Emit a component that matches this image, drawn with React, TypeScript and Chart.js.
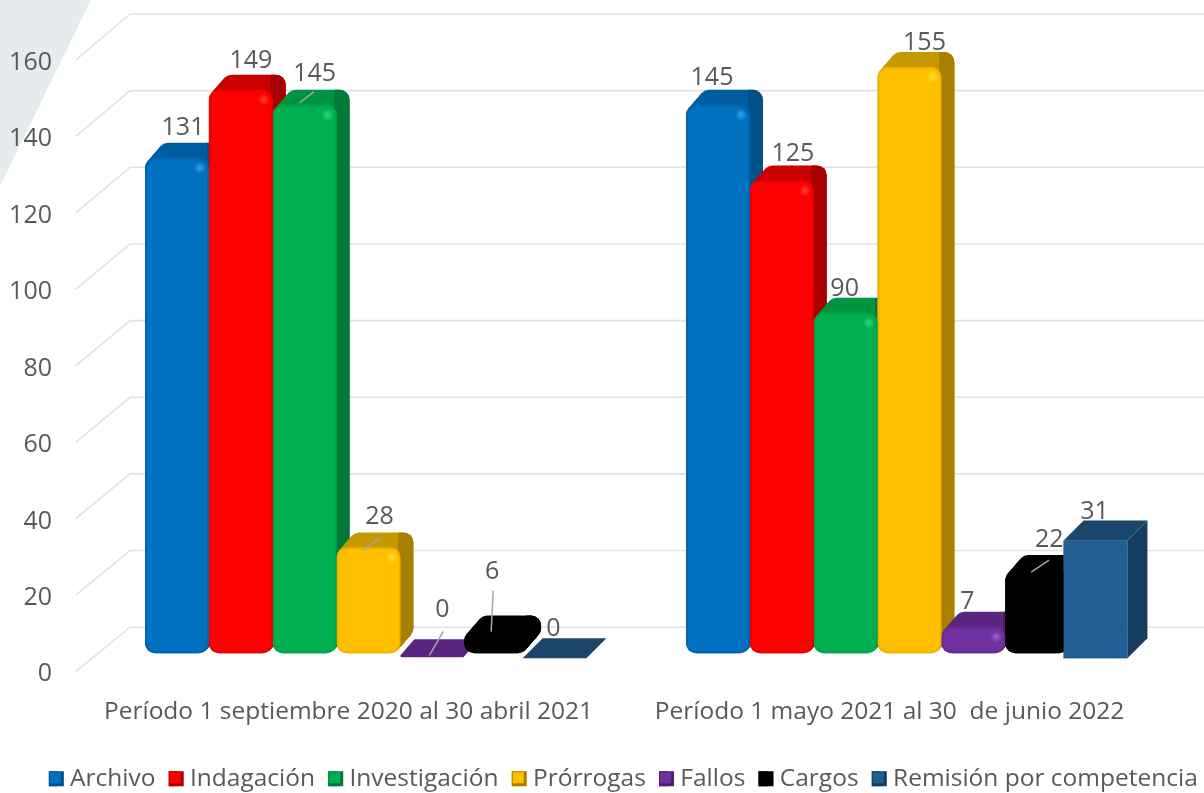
import React, { useEffect, useRef } from "react";
import { Chart, registerables } from "chart.js";

Chart.register(...registerables);

const categories = [
  "Período 1 septiembre 2020 al 30 abril 2021",
  "Período 1 mayo 2021 al 30  de junio 2022",
];
const archivo = [131, 145];
const indagacion = [149, 125];
const investigacion = [145, 90];
const prorrogas = [28, 155];
const fallos = [0, 7];
const cargos = [6, 22];
const remision = [0, 31];
const axisTicks = [0, 20, 40, 60, 80, 100, 120, 140, 160];

const FONT = '"Open Sans", sans-serif';
const TEXT = "#595959";

const styles = [
  { front: "#0070C0", top: "#005CA0", side: "#00508C", rim: "#005A9A", spot: "#3AA0F0" },
  { front: "#FF0000", top: "#CC0000", side: "#A80000", rim: "#D80000", spot: "#FF4040" },
  { front: "#00B050", top: "#009440", side: "#007A36", rim: "#009A44", spot: "#30D880" },
  { front: "#FFC000", top: "#C89800", side: "#A88000", rim: "#E0A800", spot: "#FFE030" },
  { front: "#7030A0", top: "#5A2680", side: "#4C2070", rim: "#602890", spot: "#A060D0" },
  { front: "#000000", top: "#000000", side: "#000000", rim: "#000000", spot: "#303030" },
  { front: "#215F92", top: "#1B476D", side: "#163D60", rim: "#215F92", spot: "" },
];
const names = ["Archivo", "Indagación", "Investigación", "Prórrogas", "Fallos", "Cargos", "Remisión por competencia"];
const series = [archivo, indagacion, investigacion, prorrogas, fallos, cargos, remision];

// label offsets from each bar's top centre
const labelOffsets = [
  [[6, -30], [-6, -27]],
  [[10, -29], [11, -27]],
  [[10, -31], [-1, -24]],
  [[11, -31], [15, -24]],
  [[10, -43], [-6, -25]],
  [[-4, -59], [12, -30]],
  [[-1, -29], [-1, -29]],
];
// leader lines, relative to the bar's top centre: [x1,y1,x2,y2]
const leaders: Record<string, number[]> = {
  "2-0": [-5, -2, 9, -13],
  "3-0": [-6, 3, 11, -9],
  "4-0": [-3, 2, 11, -22],
  "5-0": [-5, 1, -3, -40],
  "5-1": [-6, 2, 12, -10],
};

const DEPTH_X = 13;
const DEPTH_Y = 15;
const BOX_DEPTH = 20;
const RADIUS = 10;
const BOX_SHIFT = -5.5;

const depthPlugin = {
  id: "depth",
  afterDatasetsUpdate(chart: any) {
    chart.getDatasetMeta(6).data.forEach((el: any) => {
      el.x += BOX_SHIFT;
    });
  },
  beforeDraw(chart: any) {
    const { ctx } = chart;
    ctx.save();
    ctx.fillStyle = "#E6ECEE";
    ctx.beginPath();
    ctx.moveTo(0, 0);
    ctx.lineTo(91, 0);
    ctx.lineTo(0, 186);
    ctx.closePath();
    ctx.fill();
    ctx.restore();
  },
  beforeDatasetsDraw(chart: any) {
    const { ctx, scales } = chart;
    const right = chart.width;
    ctx.save();
    ctx.strokeStyle = "#E2E2E2";
    ctx.lineWidth = 1.6;
    for (const v of axisTicks) {
      const wy = scales.yWall.getPixelForValue(v);
      const ly = scales.y.getPixelForValue(v);
      ctx.beginPath();
      ctx.moveTo(76, ly);
      ctx.lineTo(130, wy);
      ctx.lineTo(right, wy);
      ctx.stroke();
    }
    ctx.restore();
    series.forEach((_, i) => {
      const s = styles[i];
      const isBox = i === 6;
      chart.getDatasetMeta(i).data.forEach((el: any) => {
        const l = el.x - el.width / 2;
        const r = el.x + el.width / 2;
        const t = el.y;
        const b = el.base;
        ctx.save();
        if (isBox) {
          const d = BOX_DEPTH;
          ctx.fillStyle = s.top;
          ctx.beginPath();
          ctx.moveTo(l, t);
          ctx.lineTo(l + d, t - d);
          ctx.lineTo(r + d, t - d);
          ctx.lineTo(r, t);
          ctx.closePath();
          ctx.fill();
          if (b - t > 1) {
            ctx.fillStyle = s.side;
            ctx.beginPath();
            ctx.moveTo(r, t);
            ctx.lineTo(r + d, t - d);
            ctx.lineTo(r + d, b - d);
            ctx.lineTo(r, b);
            ctx.closePath();
            ctx.fill();
          }
        } else {
          const h = b - t;
          const flat = h < 3;
          const rad = flat ? 4 : Math.min(RADIUS, h / 2);
          const sweep = (color: string) => {
            ctx.fillStyle = color;
            for (let k = 0; k <= DEPTH_Y; k++) {
              ctx.beginPath();
              ctx.roundRect(l + (k * DEPTH_X) / DEPTH_Y, t - k + (flat ? 1 : 0), el.width, flat ? 3 : h, rad);
              ctx.fill();
            }
          };
          sweep(s.top);
          if (!flat) {
            ctx.save();
            ctx.beginPath();
            ctx.rect(r - 2, 0, DEPTH_X + 6, chart.height);
            ctx.clip();
            sweep(s.side);
            ctx.restore();
          }
        }
        ctx.restore();
      });
    });
  },
  afterDatasetsDraw(chart: any) {
    const { ctx } = chart;
    series.forEach((_, i) => {
      if (i === 6 || i === 5) return;
      const s = styles[i];
      chart.getDatasetMeta(i).data.forEach((el: any) => {
        const h = el.base - el.y;
        if (h < 3) return;
        const l = el.x - el.width / 2;
        const r = el.x + el.width / 2;
        ctx.save();
        const g = ctx.createRadialGradient(r - 9, el.y + 10, 0, r - 9, el.y + 10, 6);
        g.addColorStop(0, s.spot);
        g.addColorStop(1, s.spot + "00");
        ctx.fillStyle = g;
        ctx.fillRect(r - 16, el.y + 3, 14, 14);
        ctx.globalAlpha = 0.55;
        ctx.strokeStyle = s.rim;
        ctx.lineWidth = 1.5;
        ctx.beginPath();
        ctx.roundRect(l + 1, el.y + 1, el.width - 2, h - 2, Math.min(RADIUS, h / 2));
        ctx.stroke();
        ctx.restore();
      });
    });
    // the box series sits in front of its neighbour
    chart.getDatasetMeta(6).data.forEach((el: any) => {
      if (el.base - el.y > 1) el.draw(ctx);
    });
    ctx.save();
    ctx.font = `25px ${FONT}`;
    ctx.textAlign = "center";
    ctx.textBaseline = "middle";
    series.forEach((vals, i) => {
      chart.getDatasetMeta(i).data.forEach((el: any, j: number) => {
        const lead = leaders[`${i}-${j}`];
        if (lead) {
          ctx.strokeStyle = "#A6A6A6";
          ctx.lineWidth = 1.5;
          ctx.beginPath();
          ctx.moveTo(el.x + lead[0], el.y + lead[1]);
          ctx.lineTo(el.x + lead[2], el.y + lead[3]);
          ctx.stroke();
        }
        const [dx, dy] = labelOffsets[i][j];
        ctx.fillStyle = TEXT;
        ctx.fillText(String(vals[j]), el.x + dx, el.y + dy);
      });
    });
    ctx.restore();
  },
  afterDraw(chart: any) {
    const { ctx, legend } = chart;
    ctx.save();
    legend.legendHitBoxes.forEach((hb: any, i: number) => {
      const s = styles[i];
      const cy = hb.top + hb.height / 2;
      const x = hb.left;
      const size = 15;
      const y = cy - size / 2;
      ctx.fillStyle = s.side;
      ctx.fillRect(x, y, size, size);
      ctx.fillStyle = s.front;
      ctx.fillRect(x + 1, y + 1, size - 4, size - 4);
    });
    ctx.restore();
  },
};

export default function App() {
  const ref = useRef<HTMLCanvasElement>(null);
  useEffect(() => {
    const chart = new Chart(ref.current!, {
      type: "bar",
      data: {
        labels: categories,
        datasets: series.map((data, i) => ({
          label: names[i],
          data,
          yAxisID: i === 6 ? "yBox" : "yBars",
          backgroundColor: styles[i].front,
          borderWidth: 0,
          borderRadius: i === 6 ? 0 : RADIUS,
          borderSkipped: false,
          categoryPercentage: 0.826,
          barPercentage: 1,
        })),
      },
      options: {
        animation: false,
        responsive: false,
        maintainAspectRatio: false,
        layout: { padding: { left: 0, right: -7, top: 14, bottom: -8 } },
        plugins: {
          tooltip: { enabled: false },
          legend: {
            position: "bottom",
            align: "end",
            labels: {
              color: TEXT,
              font: { family: FONT, size: 24.5 },
              boxWidth: 9,
              boxHeight: 15,
              padding: 13.2,
            },
          },
        },
        scales: {
          x: {
            grid: { display: true, drawOnChartArea: false, drawTicks: true, tickLength: 23, color: "transparent" },
            border: { display: false },
            afterFit(s: any) {
              s.height = 82;
            },
            ticks: {
              color: TEXT,
              font: { family: FONT, size: 24.5 },
              padding: 3,
              labelOffset: -20,
              maxRotation: 0,
            },
          },
          y: {
            min: 0,
            max: 172,
            position: "left",
            grid: { display: true, drawOnChartArea: false, drawTicks: true, tickLength: 43, color: "transparent" },
            border: { display: false },
            afterBuildTicks(s: any) {
              s.ticks = axisTicks.map((value) => ({ value }));
            },
            afterFit(s: any) {
              s.width = 98;
              s.paddingTop = 0;
              s.paddingBottom = 0;
            },
            ticks: {
              color: TEXT,
              font: { family: FONT, size: 25 },
              padding: 3,
              labelOffset: 3,
            },
          },
          yBars: { display: false, min: -4.76, max: 169 },
          yBox: { display: false, min: -3.42, max: 169.5 },
          yWall: {
            position: "right",
            min: -11.5,
            max: 160,
            grid: { display: false },
            border: { display: false },
            ticks: { display: false },
            afterBuildTicks(s: any) {
              s.ticks = axisTicks.map((value) => ({ value }));
            },
            afterFit(s: any) {
              s.width = 31;
            },
          },
        },
      },
      plugins: [depthPlugin],
    } as any);
    return () => chart.destroy();
  }, []);
  return (
    <div style={{ position: "fixed", left: 0, top: 0, width: 1204, height: 793, background: "#fff" }}>
      <canvas ref={ref} width={1204} height={793} style={{ display: "block", filter: "blur(0.5px)" }} />
    </div>
  );
}
